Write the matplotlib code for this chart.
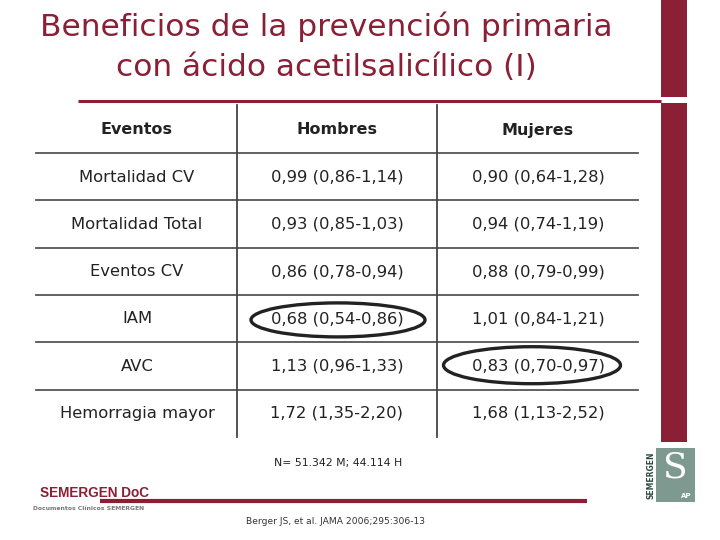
import matplotlib
matplotlib.use("Agg")
import matplotlib.pyplot as plt
from matplotlib.patches import Rectangle, Ellipse

title_lines = ["Beneficios de la prevención primaria", "con ácido acetilsalicílico (I)"]
headers = ["Eventos", "Hombres", "Mujeres"]
eventos = ["Mortalidad CV", "Mortalidad Total", "Eventos CV", "IAM", "AVC", "Hemorragia mayor"]
hombres = ["0,99 (0,86-1,14)", "0,93 (0,85-1,03)", "0,86 (0,78-0,94)",
           "0,68 (0,54-0,86)", "1,13 (0,96-1,33)", "1,72 (1,35-2,20)"]
mujeres = ["0,90 (0,64-1,28)", "0,94 (0,74-1,19)", "0,88 (0,79-0,99)",
           "1,01 (0,84-1,21)", "0,83 (0,70-0,97)", "1,68 (1,13-2,52)"]
highlight = [(1, 3), (2, 4)]  # (column, row) circled
n_note = "N= 51.342 M; 44.114 H"
reference = "Berger JS, et al. JAMA 2006;295:306-13"

RED = "#8A1F35"
plt.rcParams['font.family'] = ['DejaVu Sans']

fig = plt.figure(figsize=(7.2, 5.4), dpi=100)
ax = fig.add_axes([0, 0, 1, 1])
ax.set_xlim(0, 720)
ax.set_ylim(540, 0)
ax.axis("off")

# Title
ax.text(326, 27, title_lines[0], ha="center", va="center", fontsize=22.5, color=RED)
ax.text(326, 68, title_lines[1], ha="center", va="center", fontsize=22.5, color=RED)

# right bar and title rule
ax.add_patch(Rectangle((661, 0), 26, 97, color=RED, lw=0))
ax.add_patch(Rectangle((661, 103), 26, 339, color=RED, lw=0))
ax.plot([78, 661], [101, 101], color=RED, lw=2.2, solid_capstyle="butt")

# Table
col_x = [137, 337, 538]
row_y0 = 130
row_h = 47.3
hlines = [153 + i * row_h for i in range(6)]
for y in hlines:
    ax.plot([36, 638], [y, y], color="#555555", lw=1.3)
for x in [237, 437]:
    ax.plot([x, x], [105, 437], color="#444444", lw=1.3)

for j, h in enumerate(headers):
    ax.text(col_x[j], row_y0, h, ha="center", va="center", fontsize=11.5,
            fontweight="bold", color="#222222")

cols = [eventos, hombres, mujeres]
for j, col in enumerate(cols):
    for i, v in enumerate(col):
        y = 177 + i * row_h
        ax.text(col_x[j], y, v, ha="center", va="center", fontsize=11.8, color="#222222")

ell = {1: (338, 1, 174, 34), 2: (532, -1, 177, 37)}
for (j, i) in highlight:
    cx, dy, w, h = ell[j]
    y = 177 + i * row_h
    ax.add_patch(Ellipse((cx, y + dy), w, h, fill=False, ec="#222222", lw=2.4))

# Notes
ax.text(338, 463, n_note, ha="center", va="center", fontsize=7.8, color="#222222")
ax.text(336, 521, reference, ha="center", va="center", fontsize=6.6, color="#333333")

# SEMERGEN DoC
ax.text(40, 493, "SEMERGEN DoC", ha="left", va="center", fontsize=9.8,
        fontweight="bold", color=RED, family="Liberation Sans")
ax.text(33, 508, "Documentos Clínicos SEMERGEN", ha="left", va="center", fontsize=4.4,
        color="#777777", fontweight="bold")
ax.plot([100, 587], [501, 501], color=RED, lw=3, solid_capstyle="butt")

# Logo
ax.add_patch(Rectangle((646, 448), 49, 54, color="#7E9990", lw=0))
ax.add_patch(Rectangle((645, 448), 11, 54, color="white", lw=0))
ax.text(651, 475, "SEMERGEN", rotation=90, ha="center", va="center", fontsize=5.5,
        fontweight="bold", color="#2E4A40")
ax.text(675, 468, "S", ha="center", va="center", fontsize=26, color="white",
        family="DejaVu Serif")
ax.text(686, 496, "AP", ha="center", va="center", fontsize=5, color="white",
        fontweight="bold")

fig.savefig("out.png", dpi=100)
